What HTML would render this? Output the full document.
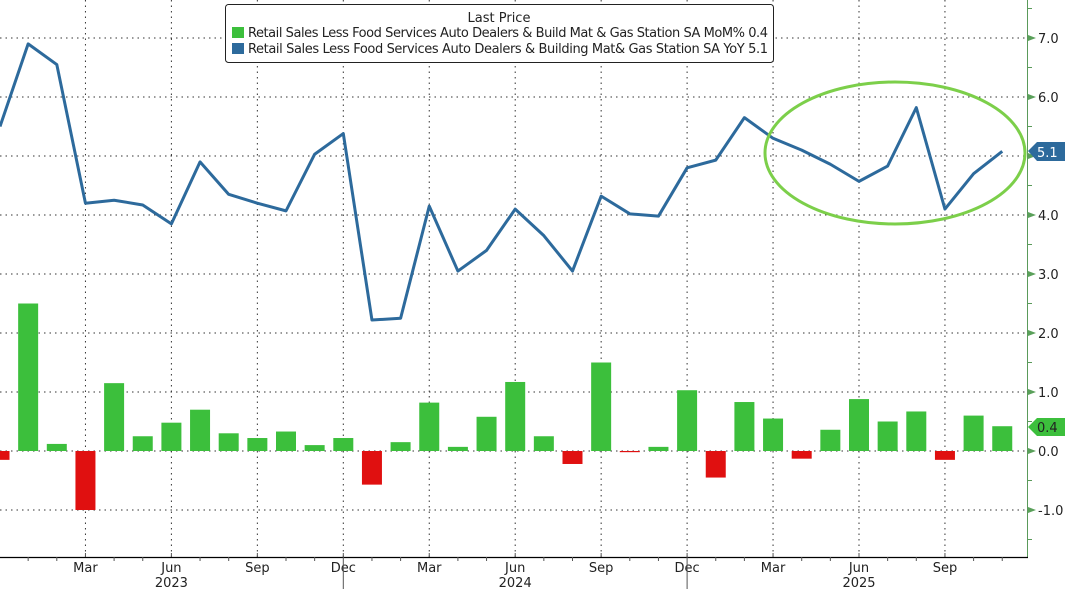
<!DOCTYPE html>
<html><head><meta charset="utf-8"><style>
html,body{margin:0;padding:0;background:#fff;}
svg{display:block;font-family:"DejaVu Sans","Liberation Sans",sans-serif;}
</style></head><body>
<svg id="c" width="1065" height="589" viewBox="0 0 1065 589" xmlns="http://www.w3.org/2000/svg"></svg>
<script>
const s=document.getElementById('c');let h='';
const Y=v=>451-v*59;
const X=i=>i*28.65-0.5;
const bars=[-0.15,2.5,0.12,-1.0,1.15,0.25,0.48,0.7,0.3,0.22,0.33,0.1,0.22,-0.57,0.15,0.82,0.07,0.58,1.17,0.25,-0.22,1.5,-0.02,0.07,1.03,-0.45,0.83,0.55,-0.13,0.36,0.88,0.5,0.67,-0.15,0.6,0.42];
const line=[5.5,6.9,6.55,4.2,4.25,4.17,3.85,4.9,4.35,4.2,4.07,5.03,5.38,2.22,2.25,4.15,3.05,3.4,4.1,3.65,3.05,4.32,4.02,3.98,4.8,4.93,5.65,5.3,5.1,4.86,4.57,4.83,5.82,4.1,4.7,5.08];
for(let v=-1;v<=7;v++){h+=`<line x1="0" x2="1027" y1="${Y(v)}" y2="${Y(v)}" stroke="#333" stroke-width="1" stroke-dasharray="1.5,4"/>`;}
for(let i=3;i<36;i+=3){const x=X(i);h+=`<line x1="${x}" x2="${x}" y1="0" y2="557" stroke="#333" stroke-width="1" stroke-dasharray="1.5,4"/>`;}
bars.forEach((b,i)=>{const x=X(i)-10;const y=b>=0?Y(b):451;const hh=Math.abs(b)*59;h+=`<rect x="${x}" y="${y}" width="20" height="${Math.max(hh,1)}" fill="${b>=0?'#3cbf3c':'#e01010'}"/>`;});
h+=`<polyline fill="none" stroke="#2d6a9c" stroke-width="3" stroke-linejoin="round" points="${line.map((v,i)=>Math.max(0,X(i))+','+Y(v)).join(' ')}"/>`;
h+=`<ellipse cx="895" cy="153" rx="130" ry="71" fill="none" stroke="#7ccf4a" stroke-width="3"/>`;
h+=`<line x1="1027.5" x2="1027.5" y1="0" y2="557" stroke="#5a9a5a" stroke-width="1"/>`;
h+=`<line x1="0" x2="1028" y1="557.5" y2="557.5" stroke="#000" stroke-width="1.2"/>`;
for(let i=1;i<36;i++){const x=X(i);h+=`<line x1="${x}" x2="${x}" y1="557" y2="${i%3==0?553:561}" stroke="#555"/>`;}
for(let v=-1.5;v<=7.5;v+=0.5){h+=`<line x1="1027" x2="1032" y1="${Y(v)}" y2="${Y(v)}" stroke="#5a9a5a"/>`;}
for(let v=-1;v<=7;v++){h+=`<polygon points="1028,${Y(v)-3} 1036,${Y(v)} 1028,${Y(v)+3}" fill="#5aa05a"/><text x="1038" y="${Y(v)+5}" font-size="13" fill="#222">${v.toFixed(1)}</text>`;}
h+=`<polygon points="1028,151 1037,142 1065,142 1065,161 1037,161" fill="#2d6a9c"/><text x="1037" y="157" font-size="13" fill="#fff">5.1</text>`;
h+=`<polygon points="1028,427 1037,418 1065,418 1065,436 1037,436" fill="#3cbf3c"/><text x="1037" y="432" font-size="13" fill="#222">0.4</text>`;
const lab=['Mar','Jun','Sep','Dec','Mar','Jun','Sep','Dec','Mar','Jun','Sep'];
lab.forEach((l,k)=>{h+=`<text x="${X(3+3*k)}" y="572" font-size="13" text-anchor="middle" fill="#222">${l}</text>`;});
[['2023',X(6)],['2024',X(18)],['2025',X(30)]].forEach(a=>{h+=`<text x="${a[1]}" y="587" font-size="13" text-anchor="middle" fill="#222">${a[0]}</text>`;});
[X(12),X(24)].forEach(x=>{h+=`<line x1="${x}" x2="${x}" y1="557" y2="589" stroke="#555"/>`;});
h+=`<rect x="225.5" y="4.5" width="548" height="58" rx="3" fill="#fff" stroke="#222"/>`;
h+=`<text x="499" y="22" font-size="13" text-anchor="middle" fill="#222">Last Price</text>`;
h+=`<rect x="232" y="27" width="12" height="11" fill="#3cbf3c"/><text x="248" y="37" font-size="13" fill="#222" textLength="520">Retail Sales Less Food Services Auto Dealers &amp; Build Mat &amp; Gas Station SA MoM%  0.4</text>`;
h+=`<rect x="232" y="43" width="12" height="11" fill="#2d6a9c"/><text x="248" y="53" font-size="13" fill="#222" textLength="520">Retail Sales Less Food Services Auto Dealers &amp; Building Mat&amp; Gas Station SA YoY  5.1</text>`;
s.innerHTML=h;
</script>
</body></html>
